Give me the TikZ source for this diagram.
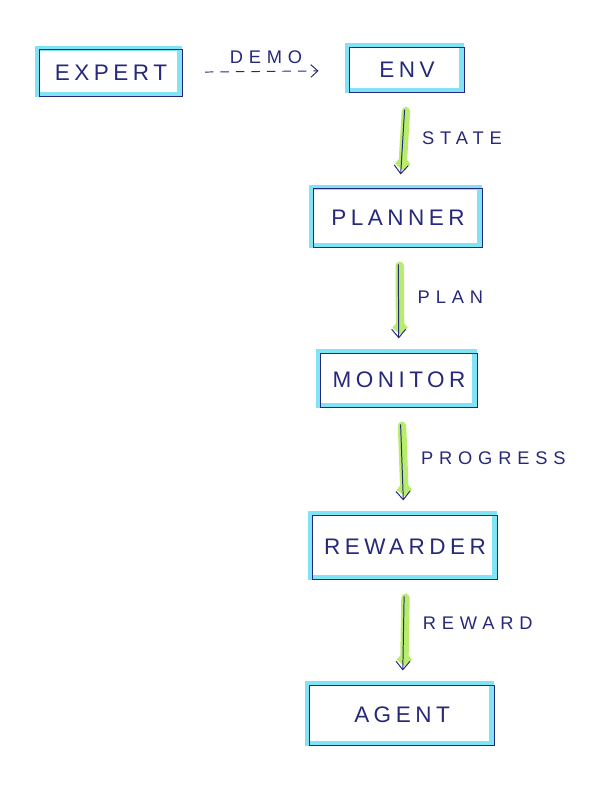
\documentclass[tikz,border=0pt]{standalone}
\usepackage{fontspec}
\newfontfamily\boxfont[LetterSpace=20]{Liberation Sans}
\newfontfamily\lblfont[LetterSpace=32]{Liberation Sans}
\usetikzlibrary{positioning}
\usetikzlibrary{arrows.meta}

\definecolor{ink}{HTML}{26287A}
\definecolor{hlcyan}{HTML}{80E4F6}
\definecolor{hlgreen}{HTML}{B8EC6C}

\tikzset{
	sketchbox/.style={draw=ink, line width=0.7pt, text=ink, inner sep=0pt,
		font=\boxfont\fontsize{16}{18}\selectfont,
		preaction={draw=hlcyan, line width=3.5pt, line cap=round, transform canvas={xshift=-1.5pt, yshift=1.2pt}}},
	flow/.style={draw=ink, line width=0.7pt, -{Straight Barb[length=6pt,width=10pt]},
		shorten <=12pt, shorten >=10pt,
		preaction={draw=hlgreen, line width=6pt, line cap=round, shorten <=13pt, shorten >=13pt,
			-{Straight Barb[length=3pt,width=7pt]}, transform canvas={xshift=1pt}}},
	demoflow/.style={draw=ink, line width=0.7pt, dashed, dash pattern=on 6pt off 5pt,
		-{Straight Barb[length=5pt,width=9pt]}, shorten <=16pt, shorten >=22pt},
	lbl/.style={text=ink, font=\lblfont\fontsize{13}{15}\selectfont}
}

\begin{document}
\begin{tikzpicture}[x=0.025cm, y=-0.025cm]
				\useasboundingbox (0,0) rectangle (598,800);
				
				\node[sketchbox, minimum width=3.55cm, minimum height=1.15cm] (expert) at (111,73) {EXPERT};
				\node[sketchbox, minimum width=2.85cm, minimum height=1.12cm] (env) at (407,70) {ENV};
				\node[sketchbox, minimum width=4.2cm, minimum height=1.45cm] (planner) at (398,218) {PLANNER};
				\node[sketchbox, minimum width=3.9cm, minimum height=1.35cm] (monitor) at (399,380) {MONITOR};
				\node[sketchbox, minimum width=4.6cm, minimum height=1.6cm] (rewarder) at (405,547) {REWARDER};
				\node[sketchbox, minimum width=4.6cm, minimum height=1.5cm] (agent) at (402,715) {AGENT};
				
				\draw[demoflow] (expert) -- node[lbl, above=2pt] (ldemo) {DEMO} (env);
				\draw[flow] (env) -- node[lbl, pos=0.47, right=10pt] (lstate) {STATE} (planner);
				\draw[flow] (planner) -- node[lbl, pos=0.47, right=10pt] (lplan) {PLAN} (monitor);
				\draw[flow] (monitor) -- node[lbl, pos=0.47, right=10pt] (lprogress) {PROGRESS} (rewarder);
				\draw[flow] (rewarder) -- node[lbl, pos=0.42, right=10pt] (lreward) {REWARD} (agent);
				
			\end{tikzpicture}
\end{document}
